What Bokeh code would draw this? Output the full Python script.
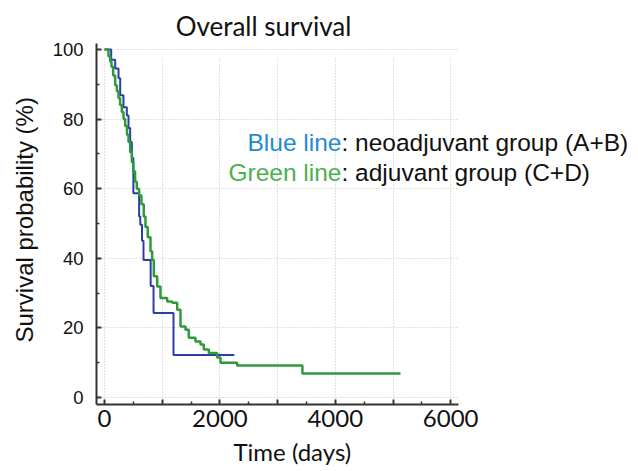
from bokeh.plotting import figure
from bokeh.models import Label, FixedTicker, Range1d, Title
from bokeh.embed import file_html
from bokeh.resources import INLINE

# ---- data ----
blue_t = [0, 116, 185, 243, 272, 329, 387, 416, 445, 474, 500, 600, 620, 650, 676, 800, 850, 1196]
blue_s = [100, 97, 94.5, 91.7, 86.8, 83.4, 81, 77.4, 73.4, 68.8, 58.7, 52, 49.6, 45, 39.5, 32, 24.3, 12.2]
blue_last_t = 2250

green_t = [0, 69, 100, 121, 150, 185, 215, 243, 270, 300, 330, 358, 390, 416, 445, 474, 500, 530, 560,
           600, 640, 680, 710, 750, 797, 826, 855, 913, 970, 1086, 1173, 1260, 1317, 1404, 1461, 1577,
           1664, 1721, 1808, 1953, 2010, 2300, 3430]
green_s = [100, 98, 96.5, 95, 92.5, 89.7, 88, 86, 84, 82, 80, 78, 75.5, 73.4, 70.5, 67.6, 65, 62, 60,
           58, 55.5, 52, 49, 46, 42, 39.5, 34.8, 31.9, 28.6, 27.6, 27.2, 25.2, 20.4, 19.5, 17.2, 16.1,
           15.2, 13.8, 12.8, 11.5, 10, 9.2, 6.9]
green_last_t = 5130

x_ticks = [0, 1000, 2000, 3000, 4000, 5000, 6000]
x_tick_labels = {0: "0", 1000: "", 2000: "2000", 3000: "", 4000: "4000", 5000: "", 6000: "6000"}
x_minor = [500, 1500, 2500, 3500, 4500, 5500]
y_ticks = [0, 20, 40, 60, 80, 100]
y_minor = [10, 30, 50, 70, 90]

title_text = "Overall survival"
x_title = "Time (days)"
y_title = "Survival probability (%)"

W, H = 636, 471
X0_PX, DAYS_PX = 104, 0.0577      # pixel of t=0, pixels per day
Y0_PX, PCT_PX = 398, 3.49         # pixel of 0 %, pixels per percent
FRAME_L, FRAME_B = 96, 405


def tx(px):
    return (px - X0_PX) / DAYS_PX


def sy(py):
    return (Y0_PX - py) / PCT_PX


x_lo, x_hi = tx(96), tx(458)
y_lo, y_hi = sy(405), sy(43)

p = figure(width=W, height=H, output_backend="svg", toolbar_location=None,
           x_range=Range1d(tx(FRAME_L), tx(W)), y_range=Range1d(sy(FRAME_B), sy(0)),
           min_border_left=FRAME_L, min_border_right=0, min_border_top=0,
           min_border_bottom=H - FRAME_B)
p.outline_line_color = None
p.background_fill_color = "white"
p.border_fill_color = "white"

# grid
p.xgrid.ticker = FixedTicker(ticks=x_ticks)
p.ygrid.ticker = FixedTicker(ticks=y_ticks)
p.xgrid.cross_bounds = (y_lo, 98)
p.ygrid.cross_bounds = (x_lo, x_hi)
for g in (p.xgrid, p.ygrid):
    g.grid_line_color = "#c4c4c4"
    g.grid_line_dash = "1 2"
    g.grid_line_width = 1

# axes
xa = p.xaxis[0]
ya = p.yaxis[0]
xa.bounds = (x_lo, x_hi)
ya.bounds = (y_lo, y_hi)
xa.ticker = FixedTicker(ticks=x_ticks, minor_ticks=x_minor)
xa.major_label_overrides = {k: v for k, v in x_tick_labels.items()}
ya.ticker = FixedTicker(ticks=y_ticks, minor_ticks=y_minor)
for ax in (xa, ya):
    ax.axis_line_color = "#333333"
    ax.axis_line_width = 2
    ax.major_tick_line_color = "#333333"
    ax.major_tick_line_width = 2
    ax.minor_tick_line_color = "#333333"
    ax.minor_tick_line_width = 1.5
    ax.major_tick_in = 5
    ax.major_tick_out = 0
    ax.minor_tick_in = 3
    ax.minor_tick_out = 0
    ax.major_label_text_color = "#111111"
xa.major_label_text_font = "Lato"
xa.major_label_text_font_size = "24px"
xa.major_label_standoff = 5
ya.major_label_text_font = "Arial"
ya.major_label_text_font_size = "18.5px"
ya.major_label_standoff = 13

# axis titles, placed next to the axes
p.add_layout(Title(text=x_title, align="left", offset=233 - FRAME_L, standoff=11,
                   text_font="Lato", text_font_size="24px", text_font_style="normal",
                   text_color="#111111"), "below")
p.add_layout(Title(text=y_title, align="left", offset=FRAME_B - 343, standoff=20,
                   vertical_align="top",
                   text_font="Arial", text_font_size="24px", text_font_style="normal",
                   text_color="#111111"), "left")

# curves
p.step(blue_t + [blue_last_t], blue_s + [blue_s[-1]], mode="after",
       line_color="#2a3fa6", line_width=2)
p.step(green_t + [green_last_t], green_s + [green_s[-1]], mode="after",
       line_color="#2e9a3c", line_width=2.5)

p.add_layout(Label(x=tx(263), y=sy(26), text=title_text, text_font="Lato", text_font_size="26px",
                   text_align="center", text_baseline="middle", text_color="#111111"))

# annotation text
ann_font = "Arial"
ann_size = "24.5px"
p.add_layout(Label(x=tx(341), y=sy(142), text="Blue line", text_font=ann_font,
                   text_font_size=ann_size, text_align="right", text_baseline="middle",
                   text_color="#1f8bd3"))
p.add_layout(Label(x=tx(341), y=sy(142), text=": neoadjuvant group (A+B)", text_font=ann_font,
                   text_font_size=ann_size, text_align="left", text_baseline="middle",
                   text_color="#111111"))
p.add_layout(Label(x=tx(341), y=sy(172), text="Green line", text_font=ann_font,
                   text_font_size=ann_size, text_align="right", text_baseline="middle",
                   text_color="#4caf50"))
p.add_layout(Label(x=tx(341), y=sy(172), text=": adjuvant group (C+D)", text_font=ann_font,
                   text_font_size=ann_size, text_align="left", text_baseline="middle",
                   text_color="#111111"))

open("out.html", "w").write(file_html(p, INLINE))
